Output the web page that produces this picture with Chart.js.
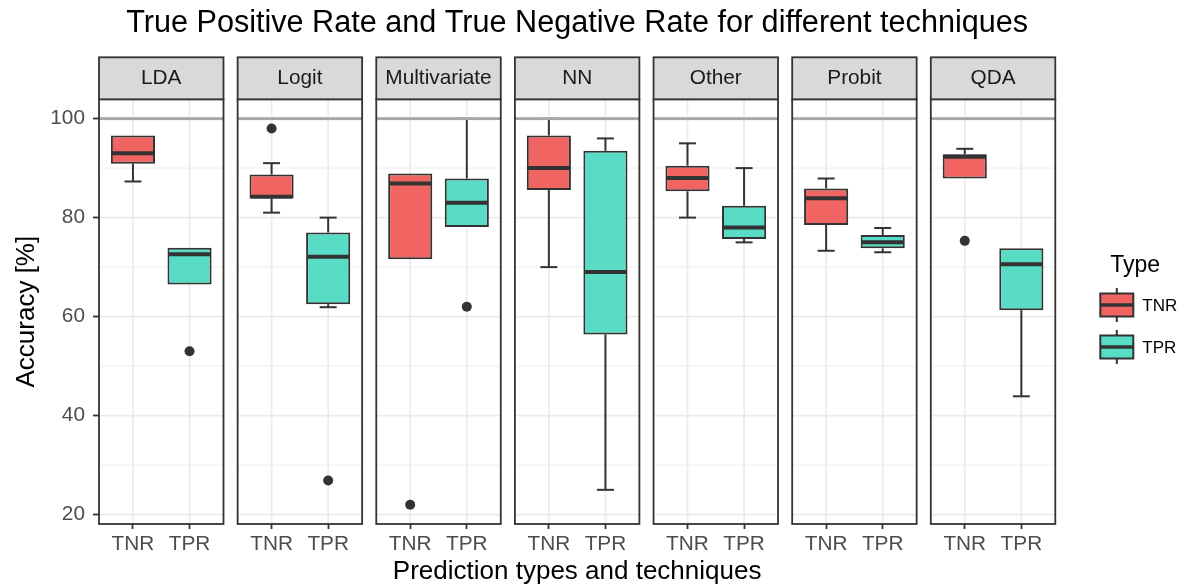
<!DOCTYPE html>
<html>
<head>
<meta charset="utf-8">
<script src="https://cdn.jsdelivr.net/npm/chart.js@4/dist/chart.umd.min.js"></script>
<style>
  html, body { margin: 0; padding: 0; background: #ffffff; }
  #wrap { width: 1182px; height: 587px; }
</style>
</head>
<body>
<div id="wrap"><canvas id="chart" width="1182" height="587"></canvas></div>
<script>
// ---- data -------------------------------------------------------------
const techniques = ['LDA', 'Logit', 'Multivariate', 'NN', 'Other', 'Probit', 'QDA'];
const types = ['TNR', 'TPR'];
const chartTitle = 'True Positive Rate and True Negative Rate for different techniques';

// five-number summaries per technique (whisker low, Q1, median, Q3, whisker high)
const tnrLow  = [87.3, 81.0, 71.6, 70.0, 80.0, 73.3, 87.9];
const tnrQ1   = [90.9, 83.9, 71.6, 85.6, 85.3, 78.5, 87.9];
const tnrMed  = [93.0, 84.2, 86.9, 90.0, 88.0, 83.9, 92.3];
const tnrQ3   = [96.6, 88.7, 88.9, 96.6, 90.5, 85.9, 92.8];
const tnrHigh = [96.6, 91.0, 88.9, 100.0, 95.0, 87.9, 93.9];
const tnrOutliers = [[], [98.0], [22.0], [], [], [], [75.3]];

const tprLow  = [66.5, 61.9, 78.1, 25.0, 75.0, 73.0, 43.9];
const tprQ1   = [66.5, 62.5, 78.1, 56.4, 75.7, 73.8, 61.3];
const tprMed  = [72.6, 72.1, 83.0, 69.0, 78.0, 75.0, 70.6];
const tprQ3   = [73.9, 77.0, 87.9, 93.5, 82.4, 76.5, 73.8];
const tprHigh = [73.9, 80.0, 100.0, 96.0, 90.0, 77.9, 73.8];
const tprOutliers = [[53.0], [26.9], [62.0], [], [], [], []];

const yTicks = [20, 40, 60, 80, 100];
const yMinorTicks = [30, 50, 70, 90];
const referenceValue = 100;

// ---- styling ----------------------------------------------------------
const FONT = '"Liberation Sans", Arial, Helvetica, sans-serif';
const INK = '#333333';
const GRID = '#ebebeb';
const typeColors = ['#F06461', '#58DCC6'];

// facet geometry in x-axis units: each panel holds two discrete slots
const panelExpand = 0.6;
const panelWidth = 2.2;
const panelGap = 0.25;
const errorbarWidth = 0.3;
const panelStart = i => i * (panelWidth + panelGap);
const slotX = (i, k) => panelStart(i) + panelExpand + k;

const series = [
  { low: tnrLow, q1: tnrQ1, med: tnrMed, q3: tnrQ3, high: tnrHigh, out: tnrOutliers },
  { low: tprLow, q1: tprQ1, med: tprMed, q3: tprQ3, high: tprHigh, out: tprOutliers }
];

// y range: data range with 5% expansion on both sides
const allValues = series.flatMap(s => [...s.low, ...s.high, ...s.out.flat()]);
const dataMin = Math.min(...allValues), dataMax = Math.max(...allValues);
const yPad = (dataMax - dataMin) * 0.05;

const boxDatasets = series.map((s, k) => ({
  type: 'bar',
  label: types[k],
  data: techniques.map((t, i) => ({ x: slotX(i, k), y: [s.q1[i], s.q3[i]] })),
  backgroundColor: typeColors[k],
  borderColor: INK,
  borderWidth: 2,
  borderSkipped: false,
  barPercentage: 0.78,
  categoryPercentage: 1,
  grouped: false,
  order: 2
}));

const outlierDataset = {
  type: 'scatter',
  label: 'outliers',
  data: series.flatMap((s, k) => s.out.flatMap((vals, i) => vals.map(v => ({ x: slotX(i, k), y: v })))),
  pointRadius: 5,
  pointBackgroundColor: INK,
  pointBorderWidth: 0,
  order: 0
};

function line(ctx, x1, y1, x2, y2) {
  ctx.beginPath(); ctx.moveTo(x1, y1); ctx.lineTo(x2, y2); ctx.stroke();
}

// panels, grid, whiskers, medians, strips, title and the boxplot legend
const facetPlugin = {
  id: 'facets',
  beforeDatasetsDraw(chart) {
    const { ctx, chartArea: a, scales: { x, y } } = chart;
    ctx.save();
    techniques.forEach((t, i) => {
      const l = x.getPixelForValue(panelStart(i));
      const r = x.getPixelForValue(panelStart(i) + panelWidth);
      ctx.fillStyle = '#ffffff';
      ctx.fillRect(l, a.top, r - l, a.bottom - a.top);
      ctx.strokeStyle = GRID;
      ctx.lineWidth = 0.9;
      yMinorTicks.forEach(v => { const py = y.getPixelForValue(v); line(ctx, l, py, r, py); });
      ctx.lineWidth = 1.7;
      yTicks.forEach(v => { const py = y.getPixelForValue(v); line(ctx, l, py, r, py); });
      types.forEach((_, k) => { const px = x.getPixelForValue(slotX(i, k)); line(ctx, px, a.top, px, a.bottom); });
    });
    // whiskers with end caps
    const capHalf = (x.getPixelForValue(errorbarWidth) - x.getPixelForValue(0)) / 2;
    ctx.strokeStyle = INK;
    ctx.lineWidth = 2;
    boxDatasets.forEach((ds, d) => {
      const s = series[d];
      chart.getDatasetMeta(d).data.forEach((bar, i) => {
        const cx = bar.x;
        if (s.high[i] > s.q3[i]) {
          const y0 = y.getPixelForValue(s.q3[i]), y1 = y.getPixelForValue(s.high[i]);
          line(ctx, cx, y0, cx, y1);
          line(ctx, cx - capHalf, y1, cx + capHalf, y1);
        }
        if (s.low[i] < s.q1[i]) {
          const y0 = y.getPixelForValue(s.q1[i]), y1 = y.getPixelForValue(s.low[i]);
          line(ctx, cx, y0, cx, y1);
          line(ctx, cx - capHalf, y1, cx + capHalf, y1);
        }
      });
    });
    ctx.restore();
  },
  afterDatasetsDraw(chart) {
    const { ctx, chartArea: a, scales: { x, y } } = chart;
    ctx.save();
    // medians
    ctx.strokeStyle = INK;
    ctx.lineWidth = 4;
    boxDatasets.forEach((ds, d) => {
      const s = series[d];
      chart.getDatasetMeta(d).data.forEach((bar, i) => {
        const py = y.getPixelForValue(s.med[i]);
        line(ctx, bar.x - bar.width / 2 + 1, py, bar.x + bar.width / 2 - 1, py);
      });
    });
    const stripHeight = 42;
    techniques.forEach((t, i) => {
      const l = x.getPixelForValue(panelStart(i));
      const r = x.getPixelForValue(panelStart(i) + panelWidth);
      // reference line, drawn over the whiskers
      const py = y.getPixelForValue(referenceValue);
      ctx.fillStyle = '#a6a6a6';
      ctx.fillRect(l, py - 1.5, r - l, 3);
      ctx.fillStyle = '#ffffff';
      ctx.fillRect(l, py - 2.5, r - l, 1);
      // panel border
      ctx.strokeStyle = INK;
      ctx.lineWidth = 1.8;
      ctx.strokeRect(l, a.top, r - l, a.bottom - a.top);
      // strip
      ctx.fillStyle = '#d9d9d9';
      ctx.fillRect(l, a.top - stripHeight, r - l, stripHeight);
      ctx.strokeRect(l, a.top - stripHeight, r - l, stripHeight);
      ctx.fillStyle = '#1a1a1a';
      ctx.font = '20.8px ' + FONT;
      ctx.textAlign = 'center';
      ctx.textBaseline = 'middle';
      ctx.fillText(t, (l + r) / 2, a.top - stripHeight / 2 - 0.5);
    });
    ctx.restore();
  },
  afterDraw(chart) {
    const { ctx, chartArea: a } = chart;
    ctx.save();
    // chart title, centred over the panels
    ctx.fillStyle = '#000000';
    ctx.font = '30.6px ' + FONT;
    ctx.textAlign = 'center';
    ctx.textBaseline = 'middle';
    ctx.fillText(chartTitle, (a.left + a.right) / 2, 24);
    // legend
    const keyLeft = a.right + 45, keyW = 33, textX = a.right + 87;
    ctx.font = '23px ' + FONT;
    ctx.textAlign = 'left';
    ctx.fillText('Type', a.right + 55, 266);
    types.forEach((label, k) => {
      const cy = 305 + k * 42;
      const cx = keyLeft + keyW / 2;
      ctx.strokeStyle = INK;
      ctx.lineWidth = 2;
      line(ctx, cx, cy - 17, cx, cy + 17);
      ctx.fillStyle = typeColors[k];
      ctx.fillRect(keyLeft, cy - 11.5, keyW, 23);
      ctx.lineWidth = 2;
      ctx.strokeRect(keyLeft, cy - 11.5, keyW, 23);
      ctx.lineWidth = 3.4;
      line(ctx, keyLeft, cy, keyLeft + keyW, cy);
      ctx.fillStyle = '#000000';
      ctx.font = '17px ' + FONT;
      ctx.fillText(label, textX, cy + 1);
    });
    ctx.restore();
  }
};

Chart.defaults.font.family = FONT;

new Chart(document.getElementById('chart'), {
  type: 'bar',
  data: { datasets: [...boxDatasets, outlierDataset] },
  options: {
    responsive: false,
    animation: false,
    events: [],
    layout: { padding: { left: 0, right: 126.7, top: 99.3, bottom: 0 } },
    plugins: {
      legend: { display: false },
      tooltip: { enabled: false },
      title: { display: false }
    },
    scales: {
      x: {
        type: 'linear',
        min: 0,
        max: panelStart(techniques.length - 1) + panelWidth,
        offset: false,
        afterBuildTicks: s => { s.ticks = techniques.flatMap((t, i) => types.map((_, k) => ({ value: slotX(i, k) }))); },
        afterFit: s => { s.height = 63; },
        ticks: {
          autoSkip: false,
          maxRotation: 0,
          padding: 3,
          color: '#4d4d4d',
          font: { size: 20.8 },
          callback: (v, idx) => types[idx % types.length]
        },
        grid: { display: true, drawOnChartArea: false, drawTicks: true, tickLength: 5, tickColor: INK, tickWidth: 1.8, offset: false },
        border: { display: false },
        title: {
          display: true,
          text: 'Prediction types and techniques',
          color: '#000000',
          font: { size: 26 },
          padding: { top: 0, bottom: 0 }
        }
      },
      y: {
        min: dataMin - yPad,
        max: dataMax + yPad,
        afterBuildTicks: s => { s.ticks = yTicks.map(v => ({ value: v })); },
        afterFit: s => { s.width = 99; },
        ticks: { padding: 8, color: '#4d4d4d', font: { size: 20.8 } },
        grid: { display: true, drawOnChartArea: false, drawTicks: true, tickLength: 6, tickColor: INK, tickWidth: 1.8 },
        border: { display: false },
        title: {
          display: true,
          text: 'Accuracy [%]',
          color: '#000000',
          font: { size: 26, lineHeight: 1 },
          padding: { top: 14, bottom: 0 }
        }
      }
    }
  },
  plugins: [facetPlugin]
});
</script>
</body>
</html>
